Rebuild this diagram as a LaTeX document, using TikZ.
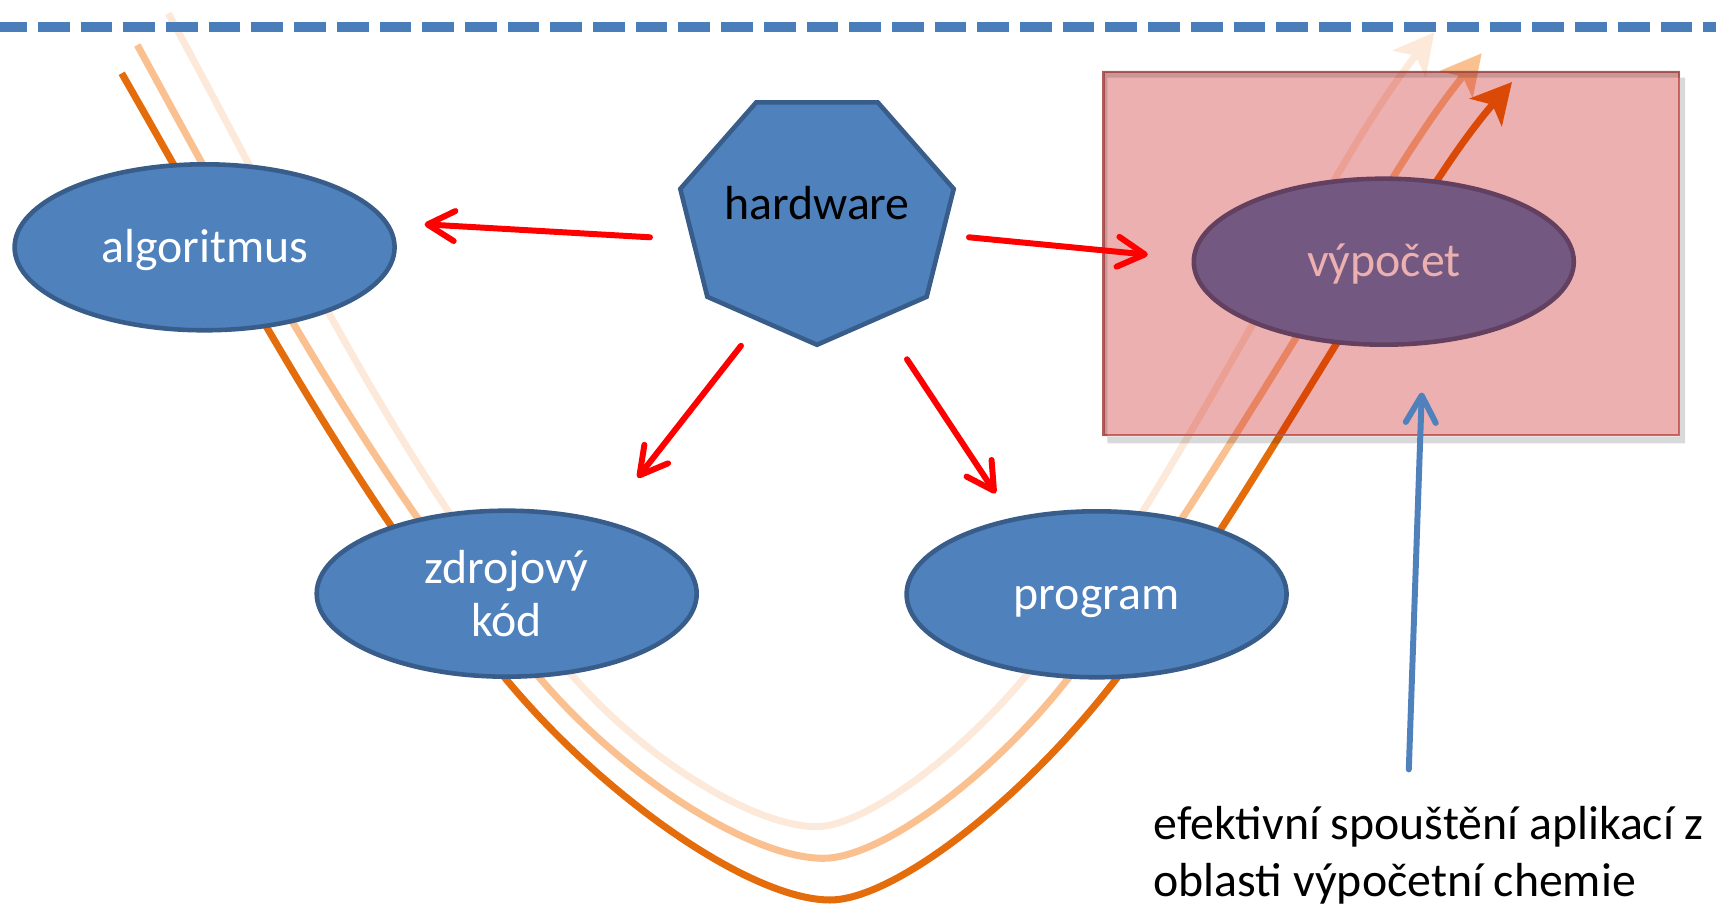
\documentclass[tikz,border=0pt]{standalone}
\usepackage{fontspec}
\setmainfont{Carlito}
\usetikzlibrary{shapes.geometric, arrows.meta, calc}

\definecolor{ppblue}{RGB}{79,129,189}
\definecolor{ppblueline}{RGB}{56,93,138}
\definecolor{dashblue}{RGB}{74,126,187}
\definecolor{orangedark}{RGB}{228,108,10}
\definecolor{orangemid}{RGB}{250,192,144}
\definecolor{orangelight}{RGB}{253,233,217}
\definecolor{oblastfill}{RGB}{197,0,0}
\definecolor{oblastline}{RGB}{192,80,77}

\begin{document}
\begin{tikzpicture}[
    ell/.style={ellipse, draw=ppblueline, fill=ppblue, line width=1.3pt, minimum width=3.8cm, minimum height=1.66cm, inner sep=0pt, text=white, align=center, font=\fontsize{13.6}{15}\selectfont},
    oneline/.style={text height=11pt, text depth=2.5pt},
    hept/.style={regular polygon, regular polygon sides=7, shape border rotate=180, draw=ppblueline, fill=ppblue, line width=1.3pt, minimum size=2.55cm, inner sep=0pt, outer sep=0pt},
    redarrow/.style={draw=red, line width=1.7pt, line cap=round, -{Straight Barb[length=0.27cm, width=0.3cm, round]}},
    bluearrow/.style={draw=ppblue, line width=1.7pt, line cap=round, -{Straight Barb[length=0.27cm, width=0.3cm, round]}},
    wave/.style={line width=2pt, -{Stealth[length=0.4cm, width=0.42cm, inset=0.1cm]}},
    dashline/.style={draw=dashblue, line width=2.85pt, dash pattern=on 0.317cm off 0.11cm},
    oblastbox/.style={rectangle, fill=oblastfill, fill opacity=0.31, draw=oblastline, draw opacity=0.85, line width=0.6pt, minimum width=5.755cm, minimum height=3.636cm, inner sep=0pt},
    note/.style={align=left, inner sep=0pt, font=\fontsize{13.6}{16.3}\selectfont}
]
\useasboundingbox (0,0) rectangle (17.16,9.06);

% the three passes through the cycle
\draw[wave, orangelight] (1.683,8.927) .. controls (2.921,6.653) and (4.034,4.248) .. (5.733,2.293)
    .. controls (6.45,1.468) and (7.543,0.793) .. (8.167,0.793)
    .. controls (8.627,0.793) and (9.575,1.476) .. (10.267,2.31)
    .. controls (11.16,3.381) and (11.836,4.619) .. (12.533,5.827)
    .. controls (13.104,6.816) and (13.629,7.845) .. (14.343,8.737);
\draw[wave, orangemid] (1.373,8.61) .. controls (2.568,6.415) and (3.785,4.184) .. (5.40,2.277)
    .. controls (6.239,1.287) and (7.514,0.477) .. (8.233,0.477)
    .. controls (8.807,0.477) and (9.91,1.287) .. (10.683,2.277)
    .. controls (11.527,3.357) and (12.244,4.528) .. (12.967,5.693)
    .. controls (13.563,6.652) and (14.103,7.653) .. (14.817,8.527);
\draw[wave, orangedark] (1.217,8.327) .. controls (2.41,6.25) and (3.534,4.099) .. (5.067,2.26)
    .. controls (6.075,1.05) and (7.53,0.06) .. (8.30,0.06)
    .. controls (8.939,0.06) and (10.23,1.058) .. (11.167,2.277)
    .. controls (11.982,3.336) and (12.662,4.491) .. (13.367,5.627)
    .. controls (13.921,6.519) and (14.435,7.446) .. (15.12,8.24);

\draw[dashline] (-0.048,8.787) -- (17.2,8.787);

% Nodes
\node[ell, oneline] (algoritmus) at (2.046,6.587) {algoritmus};
\node[ell] (zdroj) at (5.067,3.123) {zdrojový\\kód};
\node[ell, oneline] (program) at (10.966,3.117) {program};
\node[ell, oneline] (vypocet) at (13.838,6.443) {výpočet};
\node[hept, xscale=1.1] (hardware) at (8.17,6.887) {};
\node[font=\fontsize{13.6}{15}\selectfont, inner sep=0pt] (hwtext) at ([yshift=0.14cm]hardware.center) {hardware};

% Highlighted area
\node[oblastbox] (oblast) at (13.913,6.525) {};
\fill[black, opacity=0.15, even odd rule] ([shift={(0.05,-0.07)}]oblast.south west) rectangle ([shift={(0.05,-0.07)}]oblast.north east) (oblast.south west) rectangle (oblast.north east);

\node[note, anchor=south west] (popis) at (11.53,0.01) {efektivní spouštění aplikací z\\oblasti výpočetní chemie};

% Arrows
\draw[redarrow] ($(hardware)+(-1.67,-0.20)$) -- ($(algoritmus)+(2.20,0.23)$);
\draw[redarrow] ($(hardware)+(1.52,-0.20)$) -- ($(vypocet)+(-2.36,0.07)$);
\draw[redarrow] ($(hardware)+(-0.76,-1.285)$) -- ($(zdroj)+(1.31,1.16)$);
\draw[redarrow] ($(hardware)+(0.90,-1.42)$) -- ($(program)+(-1.01,1.01)$);
\draw[bluearrow] ($(popis.north)+(-0.2,0.36)$) -- ($(vypocet.south)+(0.38,-0.455)$);

\end{tikzpicture}
\end{document}
